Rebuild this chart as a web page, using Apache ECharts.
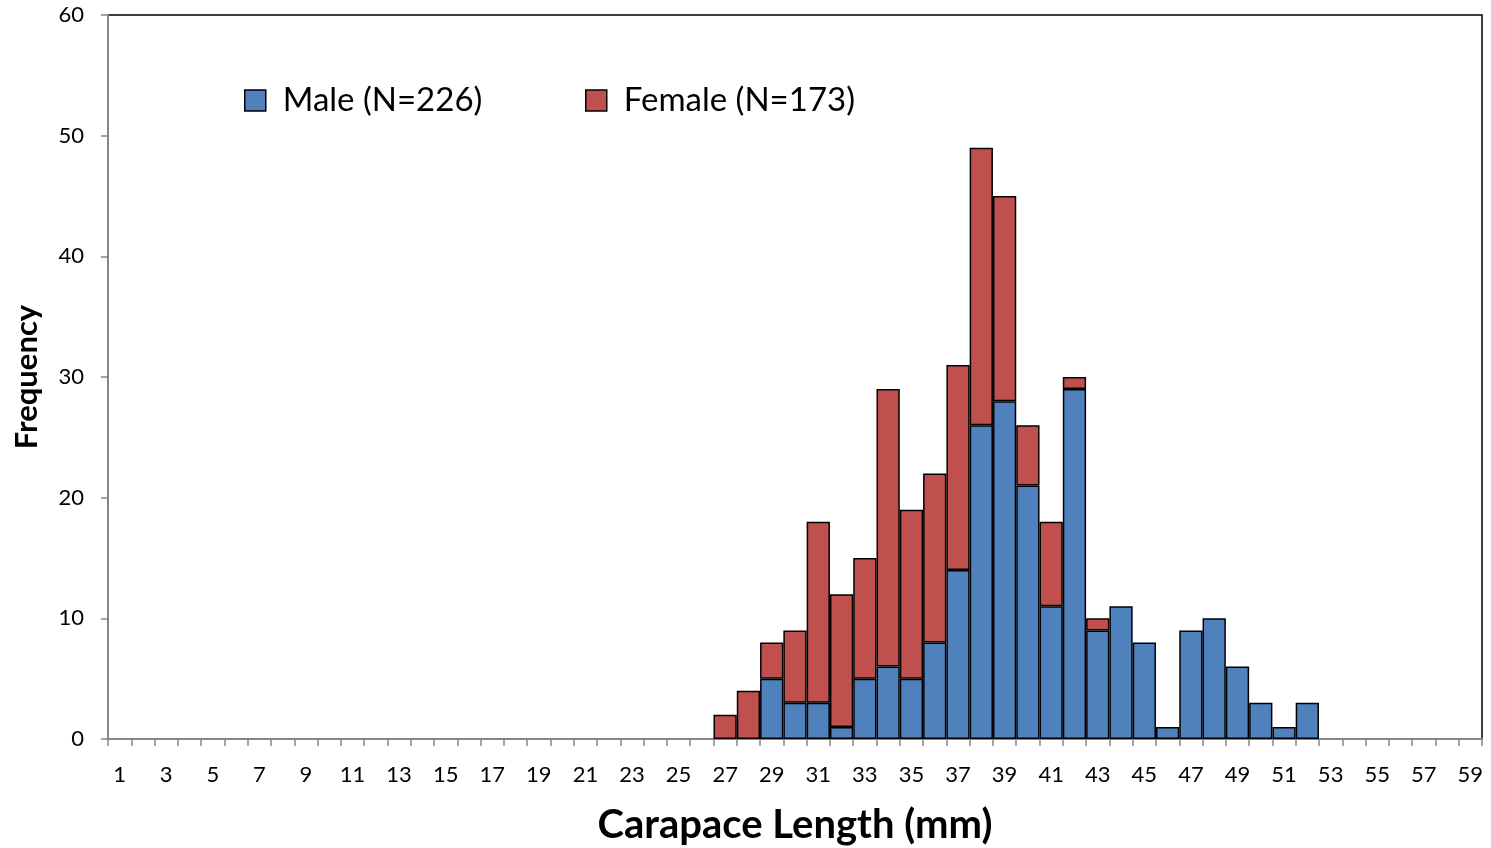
<!DOCTYPE html>
<html>
<head>
<meta charset="utf-8">
<script src="https://cdn.jsdelivr.net/npm/echarts@6/dist/echarts.min.js"></script>
<style>html,body{margin:0;padding:0;background:#fff;}#c{width:1491px;height:848px;}</style>
</head>
<body>
<div id="c"></div>
<script>
var categories = ['1','2','3','4','5','6','7','8','9','10','11','12','13','14','15','16','17','18','19','20',
  '21','22','23','24','25','26','27','28','29','30','31','32','33','34','35','36','37','38','39','40',
  '41','42','43','44','45','46','47','48','49','50','51','52','53','54','55','56','57','58','59'];
var maleValues = [null,null,null,null,null,null,null,null,null,null,
  null,null,null,null,null,null,null,null,null,null,
  null,null,null,null,null,null,null,null,5,3,
  3,1,5,6,5,8,14,26,28,21,
  11,29,9,11,8,1,9,10,6,3,
  1,3,null,null,null,null,null,null,null];
var femaleValues = [null,null,null,null,null,null,null,null,null,null,
  null,null,null,null,null,null,null,null,null,null,
  null,null,null,null,null,null,2,4,3,6,
  15,11,10,23,14,14,17,23,17,5,
  7,1,1,null,null,null,null,null,null,null,
  null,null,null,null,null,null,null,null,null];
var seriesNames = ['Male (N=226)', 'Female (N=173)'];
var yTicks = [0, 10, 20, 30, 40, 50, 60];

var FONT = 'Lato';
var chart = echarts.init(document.getElementById('c'), null, {renderer: 'canvas'});
chart.setOption({
  animation: false,
  backgroundColor: '#fff',
  textStyle: {fontFamily: FONT},
  grid: {left: 108, right: 9, top: 15, bottom: 109, show: true, borderColor: '#000', borderWidth: 1.5,
         containLabel: false, outerBoundsMode: 'none'},
  legend: [
    {data: [seriesNames[0]], left: 244, top: 84, padding: 0, icon: 'rect', itemWidth: 21, itemHeight: 21, itemGap: 0,
     textStyle: {fontSize: 33, color: '#000', fontFamily: FONT, padding: [0,0,0,12]},
     itemStyle: {borderColor: '#000', borderWidth: 1.5}},
    {data: [seriesNames[1]], left: 585, top: 84, padding: 0, icon: 'rect', itemWidth: 21, itemHeight: 21, itemGap: 0,
     textStyle: {fontSize: 33, color: '#000', fontFamily: FONT, padding: [0,0,0,12]},
     itemStyle: {borderColor: '#000', borderWidth: 1.5}}
  ],
  xAxis: {
    type: 'category',
    data: categories,
    boundaryGap: true,
    name: 'Carapace Length (mm)',
    nameLocation: 'middle',
    nameGap: 66,
    nameTextStyle: {fontSize: 40, fontWeight: 'bold', color: '#000', fontFamily: FONT},
    axisLine: {lineStyle: {color: '#868686', width: 2}},
    axisTick: {show: true, interval: 0, length: 7, lineStyle: {color: '#868686', width: 1.5}},
    axisLabel: {interval: 1, fontSize: 22, color: '#000', margin: 25, fontFamily: FONT},
    splitLine: {show: false}
  },
  yAxis: {
    type: 'value',
    min: 0, max: 60, interval: 10,
    name: 'Frequency',
    nameLocation: 'middle',
    nameGap: 66,
    nameTextStyle: {fontSize: 31, fontWeight: 'bold', color: '#000', fontFamily: FONT},
    axisLine: {show: true, lineStyle: {color: '#868686', width: 2}},
    axisTick: {show: true, length: 7, lineStyle: {color: '#868686', width: 1.5}},
    axisLabel: {fontSize: 22, color: '#000', margin: 24, fontFamily: FONT,
      formatter: function (v) { return yTicks.indexOf(v) >= 0 ? String(v) : ''; }},
    splitLine: {show: false}
  },
  series: [
    {name: seriesNames[0], type: 'bar', stack: 'total', data: maleValues, barCategoryGap: '0%',
     itemStyle: {color: '#4F81BD', borderColor: '#000', borderWidth: 1.5}},
    {name: seriesNames[1], type: 'bar', stack: 'total', data: femaleValues, barCategoryGap: '0%',
     itemStyle: {color: '#C0504D', borderColor: '#000', borderWidth: 1.5}}
  ]
});
</script>
</body>
</html>
